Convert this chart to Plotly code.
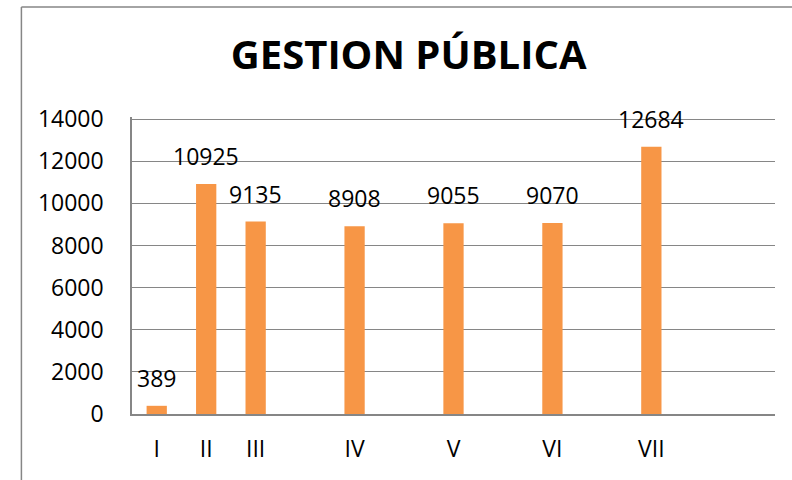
import plotly.graph_objects as go

# categorias del eje X (las vacias son filas en blanco de la hoja)
categorias = ["I", "II", "III", " ", "IV", "  ", "V", "   ", "VI", "    ", "VII", "     ", "      "]
valores = [389, 10925, 9135, None, 8908, None, 9055, None, 9070, None, 12684, None, None]
ticks_y = [0, 2000, 4000, 6000, 8000, 10000, 12000, 14000]

GRIS = "#868686"
NARANJA = "#F79646"
FUENTE = "Open Sans"

fig = go.Figure()

fig.add_trace(go.Bar(
    x=categorias,
    y=valores,
    marker=dict(color=NARANJA, line=dict(width=0)),
    showlegend=False,
))

# etiquetas de datos encima de cada barra
for cat, val in zip(categorias, valores):
    if val is None:
        continue
    fig.add_annotation(
        x=cat, y=val, text=str(val),
        showarrow=False, yanchor="bottom", yshift=10,
        font=dict(family=FUENTE, size=23, color="#000000"),
    )

# marco exterior del grafico (solo se ven los bordes izquierdo y superior)
fig.add_shape(
    type="line", xref="paper", yref="paper",
    x0=-0.172, x1=1.03, y0=1.37, y1=1.37,
    line=dict(color=GRIS, width=1.5), layer="below",
)
fig.add_shape(
    type="line", xref="paper", yref="paper",
    x0=-0.172, x1=-0.172, y0=-0.25, y1=1.37,
    line=dict(color=GRIS, width=1.5), layer="below",
)

fig.update_layout(
    width=792,
    height=480,
    margin=dict(l=132, r=17, t=117, b=66, autoexpand=False),
    paper_bgcolor="white",
    plot_bgcolor="white",
    bargap=0.59,
    title=dict(
        text="<b>GESTION PÚBLICA</b>",
        xref="container", x=0.516, xanchor="center",
        y=0.885, yanchor="middle",
        font=dict(family=FUENTE, size=40, color="#000000"),
    ),
    xaxis=dict(
        type="category",
        categoryorder="array",
        categoryarray=categorias,
        showline=True, linecolor=GRIS, linewidth=1.5,
        showgrid=False, ticks="",
        ticklabelstandoff=14,
        tickfont=dict(family=FUENTE, size=23, color="#000000"),
    ),
    yaxis=dict(
        range=[0, 14100],
        tickvals=ticks_y,
        tickformat="d",
        showline=True, linecolor=GRIS, linewidth=1.5,
        showgrid=True, gridcolor=GRIS, gridwidth=1.3,
        zeroline=False, ticks="",
        ticklabelstandoff=22,
        tickfont=dict(family=FUENTE, size=23, color="#000000"),
    ),
)

fig.write_html(
    "out.html",
    config={"displayModeBar": False},
    post_script="document.body.style.margin='0'; document.body.style.overflow='hidden';",
)
